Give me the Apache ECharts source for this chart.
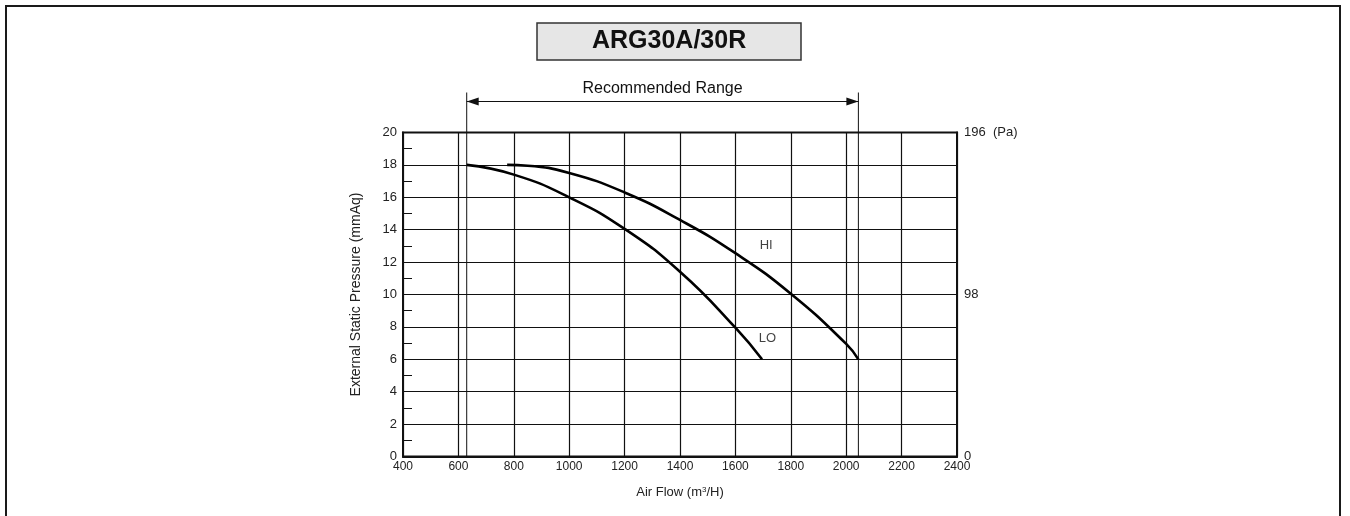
<!DOCTYPE html>
<html>
<head>
<meta charset="utf-8">
<title>ARG30A/30R</title>
<script src="https://cdn.jsdelivr.net/npm/echarts@6/dist/echarts.min.js"></script>
<style>
  html, body { margin: 0; padding: 0; background: #fff; overflow: hidden; }
  .page { position: relative; width: 1350px; height: 516px; overflow: hidden; }
  .frame { position: absolute; left: 5px; top: 5px; width: 1336px; height: 600px; border: 2px solid #1a1a1a; box-sizing: border-box; }
  .chart-wrap { position: absolute; left: 0; top: 0; width: 1350px; height: 516px; }
</style>
</head>
<body>
<div class="page">
  <div class="frame"></div>
  <div id="chart" class="chart-wrap"></div>
</div>
<script>
  // fan curve data (air flow m3/H vs ESP mmAq)
  const chartTitle = 'ARG30A/30R';
  const rangeLabel = 'Recommended Range';
  const rangeFlow = [630, 2044];

  const hiFlow = [776, 850, 1000, 1200, 1400, 1600, 1800, 2000, 2044];
  const hiPress = [18.0, 17.95, 17.5, 16.3, 14.6, 12.55, 10.05, 6.95, 6.0];

  const loFlow = [630, 800, 1000, 1200, 1400, 1600, 1696];
  const loPress = [18.0, 17.4, 16.0, 14.05, 11.4, 7.95, 6.0];

  const curveNames = ['HI', 'LO'];
  const curveLabelFlow = [1711, 1716];
  const curveLabelPress = [13.05, 7.31];

  const paTicks = [0, 98, 196];

  const font = '"Liberation Sans", Arial, Helvetica, sans-serif';

  function pairs(xs, ys) {
    return xs.map((x, i) => [x, ys[i]]);
  }

  const myChart = echarts.init(document.getElementById('chart'), null, { renderer: 'canvas' });

  const options = {
    backgroundColor: 'transparent',
    animation: false,
    title: {
      text: chartTitle,
      left: 537,
      top: 23,
      padding: [6, 55],
      backgroundColor: '#e6e6e6',
      borderColor: '#333',
      borderWidth: 1.5,
      textStyle: {
        fontFamily: font,
        fontSize: 25,
        fontWeight: 'bold',
        color: '#111',
        lineHeight: 25
      }
    },
    grid: {
      left: 403,
      right: 393,
      top: 132.5,
      bottom: 59.5,
      show: true,
      borderColor: '#111',
      borderWidth: 2,
      backgroundColor: 'transparent'
    },
    xAxis: {
      type: 'value',
      min: 400,
      max: 2400,
      interval: 200,
      name: 'Air Flow (m{sup|3}/H)',
      nameLocation: 'middle',
      nameGap: 29,
      nameTextStyle: {
        fontFamily: font,
        fontSize: 13,
        color: '#222',
        rich: {
          sup: { fontFamily: font, fontSize: 8, color: '#222', verticalAlign: 'top', padding: [0, 0, 6, 0] }
        }
      },
      axisLine: { show: true, onZero: false, lineStyle: { color: '#111', width: 2 } },
      axisTick: { show: false },
      axisLabel: {
        margin: 4,
        fontFamily: font,
        fontSize: 12,
        color: '#222',
        formatter: function (v) { return String(v); }
      },
      splitLine: { show: true, lineStyle: { color: '#111', width: 1.2 } }
    },
    yAxis: [{
      type: 'value',
      min: 0,
      max: 20,
      interval: 2,
      name: 'External Static Pressure (mmAq)',
      nameLocation: 'middle',
      nameGap: 40,
      nameTextStyle: { fontFamily: font, fontSize: 14, color: '#222' },
      axisLine: { show: true, lineStyle: { color: '#111', width: 2 } },
      axisTick: { show: true, inside: true, length: 9, lineStyle: { color: '#111', width: 1 } },
      minorTick: { show: true, splitNumber: 2, length: 9, lineStyle: { color: '#111', width: 1 } },
      axisLabel: { margin: 6, fontFamily: font, fontSize: 13, color: '#222' },
      splitLine: { show: true, lineStyle: { color: '#111', width: 1.2 } }
    }, {
      type: 'value',
      position: 'right',
      min: paTicks[0],
      max: paTicks[paTicks.length - 1],
      interval: paTicks[1] - paTicks[0],
      axisLine: { show: true, lineStyle: { color: '#111', width: 2 } },
      axisTick: { show: false },
      splitLine: { show: false },
      axisLabel: {
        margin: 7,
        fontFamily: font,
        fontSize: 13,
        color: '#222',
        formatter: function (v) {
          return v === paTicks[paTicks.length - 1] ? v + '  (Pa)' : String(v);
        }
      }
    }],
    series: [{
      name: 'HI',
      type: 'line',
      smooth: 0.5,
      showSymbol: false,
      lineStyle: { color: '#000', width: 2.6 },
      data: pairs(hiFlow, hiPress),
      z: 5
    }, {
      name: 'LO',
      type: 'line',
      smooth: 0.5,
      showSymbol: false,
      lineStyle: { color: '#000', width: 2.6 },
      data: pairs(loFlow, loPress),
      z: 5
    }, {
      name: 'curve labels',
      type: 'scatter',
      symbolSize: 0,
      silent: true,
      label: {
        show: true,
        position: 'inside',
        fontFamily: font,
        fontSize: 13,
        color: '#111',
        formatter: function (p) { return curveNames[p.dataIndex]; }
      },
      data: pairs(curveLabelFlow, curveLabelPress)
    }, {
      name: 'range',
      type: 'custom',
      silent: true,
      clip: false,
      data: [rangeFlow],
      renderItem: function (params, api) {
        const a = api.coord([api.value(0), 0]);
        const b = api.coord([api.value(1), 0]);
        const top = api.coord([api.value(0), 20])[1];
        const lineTop = top - 40;
        const arrowY = top - 31;
        const s = { stroke: '#111', lineWidth: 1 };
        return {
          type: 'group',
          children: [
            { type: 'line', shape: { x1: a[0], y1: a[1], x2: a[0], y2: lineTop }, style: s },
            { type: 'line', shape: { x1: b[0], y1: b[1], x2: b[0], y2: lineTop }, style: s },
            { type: 'line', shape: { x1: a[0], y1: arrowY, x2: b[0], y2: arrowY }, style: s },
            { type: 'polygon', shape: { points: [[a[0], arrowY], [a[0] + 12, arrowY - 4], [a[0] + 12, arrowY + 4]] }, style: { fill: '#111' } },
            { type: 'polygon', shape: { points: [[b[0], arrowY], [b[0] - 12, arrowY - 4], [b[0] - 12, arrowY + 4]] }, style: { fill: '#111' } },
            {
              type: 'text',
              style: {
                text: rangeLabel,
                x: (a[0] + b[0]) / 2,
                y: arrowY - 5,
                align: 'center',
                verticalAlign: 'bottom',
                font: '16px ' + font,
                fill: '#111'
              }
            }
          ]
        };
      }
    }]
  };

  myChart.setOption(options);
</script>
</body>
</html>
